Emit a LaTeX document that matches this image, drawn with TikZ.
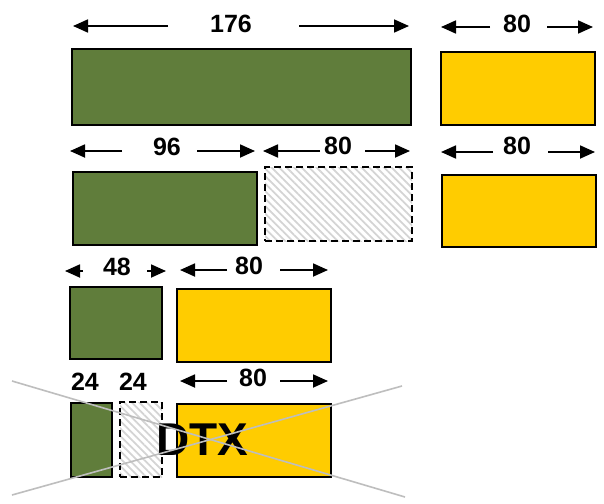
\documentclass[tikz,border=0pt]{standalone}
\usepackage{fontspec}
\setmainfont{Liberation Sans}
\usetikzlibrary{arrows.meta,patterns.meta}

\definecolor{leaf}{RGB}{96,125,59}
\definecolor{amber}{RGB}{255,204,0}
\definecolor{crossgray}{RGB}{190,190,190}
\definecolor{hatchgray}{RGB}{212,212,212}

\tikzset{
  blockbox/.style={draw=black, line width=1.6pt, anchor=north west,
                   inner sep=0pt, outer sep=0pt},
  greenblock/.style={blockbox, fill=leaf},
  yellowblock/.style={blockbox, fill=amber},
  freeblock/.style={blockbox, dash pattern=on 7pt off 4pt,
                    pattern={Lines[angle=-45,distance=5.3pt,line width=1.8pt]},
                    pattern color=hatchgray},
  dimtext/.style={font=\bfseries\fontsize{25}{30}\selectfont, inner sep=0pt},
  bigtext/.style={font=\bfseries\fontsize{46}{52}\selectfont, inner sep=0pt},
  dimarrow/.style={line width=1.8pt, -{Triangle[length=15pt,width=13pt]}},
  strike/.style={crossgray, line width=1.6pt},
}

% block: name, style, x1, y1, x2, y2 (top-left and bottom-right corners)
\newcommand\blockat[6]{%
  \node[#2, minimum width={(#5-#3)*1pt}, minimum height={(#6-#4)*1pt}] (#1) at (#3,#4) {};}

% dimension label: name, text, x, y, arrow y, left tail, left tip, right tail, right tip
\newcommand\dimmark[9]{%
  \node[dimtext] (#1) at (#3,#4) {#2};
  \coordinate (#1-lt) at (#6,#5);
  \coordinate (#1-lh) at (#7,#5);
  \coordinate (#1-rt) at (#8,#5);
  \coordinate (#1-rh) at (#9,#5);
  \draw[dimarrow] (#1-lt) -- (#1-lh);
  \draw[dimarrow] (#1-rt) -- (#1-rh);}

\begin{document}
\begin{tikzpicture}[x=1pt,y=-1pt]
  \fill[white] (0,0) rectangle (604,503);
  \useasboundingbox (0,0) rectangle (604,503);

  % row 1
  \blockat{g1}{greenblock}{72}{49}{411}{125}
  \blockat{y1}{yellowblock}{441}{52}{595}{125}
  \dimmark{d176}{176}{231}{24}{26}{168}{73}{299}{409}
  \dimmark{d80a}{80}{517}{24}{27}{490}{441}{547}{593}

  % row 2
  \blockat{g2}{greenblock}{73}{172}{257}{245}
  \blockat{h2}{freeblock}{265}{167}{412}{241}
  \blockat{y2}{yellowblock}{442}{175}{596}{247}
  \dimmark{d96}{96}{167}{147}{151}{122}{70}{197}{255}
  \dimmark{d80b}{80}{338}{146}{151}{320}{263}{365}{410}
  \dimmark{d80c}{80}{517}{146}{152}{493}{441}{548}{595}

  % row 3
  \blockat{g3}{greenblock}{70}{287}{162}{359}
  \blockat{y3}{yellowblock}{177}{289}{331}{362}
  \dimmark{d48}{48}{117}{267}{271}{83}{65}{147}{166}
  \dimmark{d80d}{80}{249}{266}{270}{227}{180}{280}{328}

  % row 4
  \blockat{g4}{greenblock}{71}{403}{112}{477}
  \blockat{h4}{freeblock}{120}{402}{162}{477}
  \blockat{y4}{yellowblock}{177}{404}{331}{477}
  \node[dimtext] (d24a) at (85,382) {24};
  \node[dimtext] (d24b) at (133,382) {24};
  \dimmark{d80e}{80}{253}{378}{381}{227}{180}{280}{328}

  \node[bigtext] (dtx) at (202,440) {DTX};

  % crossing strike-out lines
  \coordinate (s1a) at (12,381);
  \coordinate (s1b) at (405,497);
  \coordinate (s2a) at (12,495);
  \coordinate (s2b) at (402,386);
  \draw[strike] (s1a) -- (s1b);
  \draw[strike] (s2a) -- (s2b);
\end{tikzpicture}
\end{document}
